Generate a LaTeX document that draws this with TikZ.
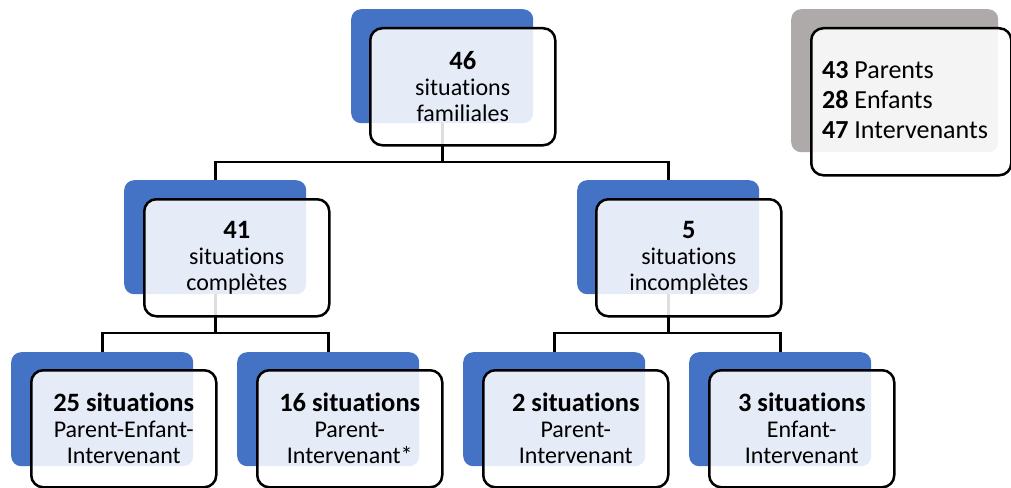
\documentclass[tikz,border=0pt]{standalone}
\usepackage{fontspec}
\setmainfont{Carlito}[Ligatures=NoCommon]
\definecolor{backblue}{HTML}{4472C4}
\definecolor{backgray}{HTML}{AEAAAA}
\tikzset{
  backbox/.style={rectangle, rounded corners=10pt, fill=backblue, draw=none, anchor=north west, minimum width=182pt, minimum height=114pt, inner sep=0pt},
  graybox/.style={backbox, fill=backgray, minimum width=207pt, minimum height=143pt},
  frontbox/.style={rectangle, rounded corners=12pt, fill=white, fill opacity=0.87, text opacity=1, draw=black, line width=2.5pt, anchor=north west, minimum width=185pt, minimum height=117pt, inner sep=0pt, align=center, font=\fontsize{24}{26}\selectfont},
  infobox/.style={frontbox, minimum width=200pt, minimum height=147pt},
  link/.style={draw=black, line width=2.7pt},
}
\newcommand{\hd}[1]{{\fontsize{26.5}{28}\selectfont\bfseries #1}}
\begin{document}
\begin{tikzpicture}[x=1pt,y=-1pt]
\useasboundingbox (0,0) rectangle (1011,487);
% back boxes
\node[backbox] (b0) at (351,9) {};
\node[backbox] (b1) at (124,180) {};
\node[backbox] (b2) at (577,180) {};
\node[backbox] (b3) at (11,352) {};
\node[backbox] (b4) at (237,352) {};
\node[backbox] (b5) at (463,352) {};
\node[backbox] (b6) at (689,352) {};
\node[graybox] (g0) at (791,9) {};
% connectors
\draw[link] (b0.south) -- (b0.south |- 0,162) -| (b1.north);
\draw[link] (b0.south |- 0,162) -| (b2.north);
\draw[link] (b1.south) -- (b1.south |- 0,333) -| (b3.north);
\draw[link] (b1.south |- 0,333) -| (b4.north);
\draw[link] (b2.south) -- (b2.south |- 0,333) -| (b5.north);
\draw[link] (b2.south |- 0,333) -| (b6.north);
% front boxes
\node[frontbox] (f0) at (369,27) {\hd{46}\\situations\\familiales};
\node[frontbox] (f1) at (143,198) {\hd{41}\\situations\\complètes};
\node[frontbox] (f2) at (595,198) {\hd{5}\\situations\\incomplètes};
\node[frontbox] (f3) at (30,369) {\hd{25 situations}\\Parent-Enfant-\\Intervenant};
\node[frontbox] (f4) at (256,369) {\hd{16 situations}\\Parent-\\Intervenant*};
\node[frontbox] (f5) at (482,369) {\hd{2 situations}\\Parent-\\Intervenant};
\node[frontbox] (f6) at (708,369) {\hd{3 situations}\\Enfant-\\Intervenant};
\node[infobox] (f7) at (810,27) {};
\node[anchor=west, align=left, inner sep=0pt, font=\fontsize{26}{30}\selectfont] (t7) at (822,100.5) {\textbf{43} Parents\\\textbf{28} Enfants\\\textbf{47} Intervenants};
\end{tikzpicture}
\end{document}
